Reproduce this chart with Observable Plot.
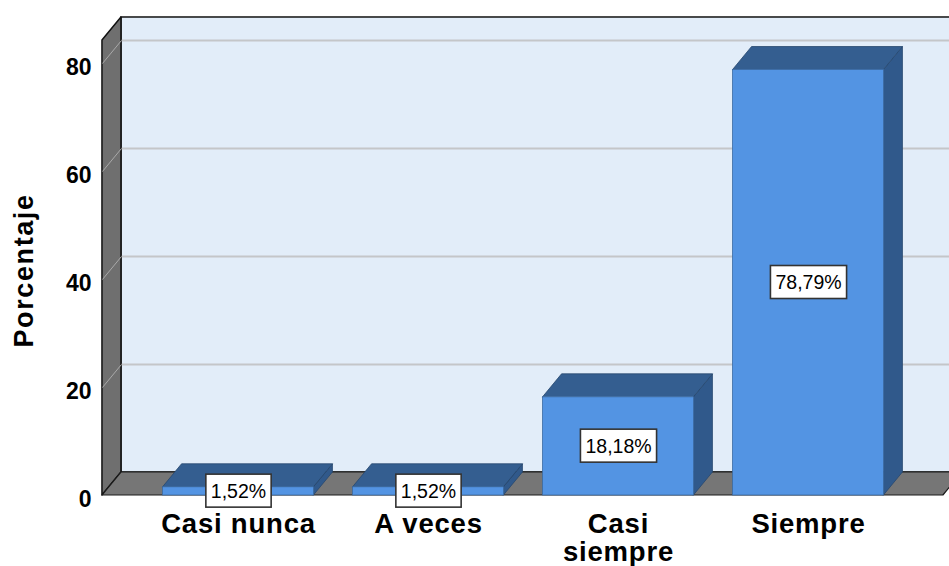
<!DOCTYPE html>
<html><head><meta charset="utf-8">
<script src="https://cdn.jsdelivr.net/npm/d3@7"></script>
<script src="https://cdn.jsdelivr.net/npm/@observablehq/plot@0.6"></script>
<style>body{margin:0;background:#fff;} #chart svg{display:block;}</style>
</head><body><div id="chart"></div>
<script>
const categories = ["Casi nunca", "A veces", "Casi siempre", "Siempre"];
const values = [1.52, 1.52, 18.18, 78.79];
const valueLabels = ["1,52%", "1,52%", "18,18%", "78,79%"];
const tickLabels = ["Casi nunca", "A veces", "Casi\nsiempre", "Siempre"];
const yTicks = [0, 20, 40, 60, 80];
const yTitle = "Porcentaje";

// 3D depth styling (in scale units)
const DX = 0.1, DY = 4.26, HW = 0.397;
const WALL_X = -0.716, RIGHT_X = 3.71, TOP_Y = 84.26, FAR_X = 4.4;

const bars = categories.map((c, i) => ({c, i, v: values[i], label: valueLabels[i]}));
const tops = bars.flatMap(b => [
  {c: b.c, y: b.v, x1: b.i - HW, x2: b.i + HW},
  {c: b.c, y: b.v + DY, x1: b.i - HW + DX, x2: b.i + HW + DX}
]);
const sides = bars.flatMap(b => [
  {c: b.c, x: b.i + HW, y1: 0, y2: b.v},
  {c: b.c, x: b.i + HW + DX, y1: DY, y2: b.v + DY}
]);
const leftWall = [
  {x: WALL_X, y1: 0, y2: TOP_Y},
  {x: WALL_X + DX, y1: DY, y2: TOP_Y + DY}
];
const floor = [
  {y: 0, x1: WALL_X, x2: RIGHT_X},
  {y: DY, x1: WALL_X + DX, x2: RIGHT_X + DX}
];

const font = "'Liberation Sans', Arial, sans-serif";

const svg = Plot.plot({
  width: 949,
  height: 566,
  marginLeft: 102,
  marginRight: 0,
  marginTop: 17,
  marginBottom: 71,
  style: {fontFamily: font, background: "#fff", overflow: "hidden"},
  x: {type: "linear", domain: [0, 3], range: [238, 808], label: null},
  y: {type: "linear", domain: [0, 80], range: [495, 63], label: null},
  marks: [
    // back wall
    Plot.rect([0], {x1: WALL_X + DX, x2: FAR_X, y1: DY, y2: TOP_Y + DY, fill: "#e2edf9", stroke: "#111", strokeWidth: 1.5}),
    // back gridlines
    Plot.ruleY(yTicks.filter(v => v > 0), {y: v => v + DY, x1: WALL_X + DX, x2: FAR_X, stroke: "#c4c6c9", strokeWidth: 2}),
    // left wall
    Plot.areaY(leftWall, {x: "x", y1: "y1", y2: "y2", fill: "#6f6f6f", stroke: "#111", strokeWidth: 1.5}),
    Plot.link(yTicks, {x1: WALL_X, y1: v => v, x2: WALL_X + DX, y2: v => v + DY, stroke: "#a9a9a9", strokeWidth: 1}),
    // floor
    Plot.areaX(floor, {y: "y", x1: "x1", x2: "x2", fill: "#767676", stroke: "#1a1a1a", strokeWidth: 1.2}),
    // bars
    Plot.areaY(sides, {x: "x", y1: "y1", y2: "y2", z: "c", fill: "#30598b", stroke: "#27476e", strokeWidth: 0.8}),
    Plot.areaX(tops, {y: "y", x1: "x1", x2: "x2", z: "c", fill: "#345e90", stroke: "#27476e", strokeWidth: 0.8}),
    Plot.rect(bars, {x1: d => d.i - HW, x2: d => d.i + HW, y1: 0, y2: "v", fill: "#5394e3", stroke: "#3a6aa3", strokeWidth: 0.8}),
    // value labels
    Plot.text(bars, {x: "i", y: d => d.v / 2, text: "label", fontSize: 19.5, fill: "#000"}),
    // axes
    Plot.axisY({ticks: yTicks, tickSize: 0, tickPadding: 11, fontSize: 23, fontWeight: "bold", dy: 4, label: null, fill: "#000"}),
    Plot.axisX({ticks: [0, 1, 2, 3], tickFormat: i => tickLabels[i], tickSize: 0, tickPadding: 18, fontSize: 27.5, fontWeight: "bold", lineHeight: 1.02, label: null, fill: "#000"}),
    Plot.text([yTitle], {frameAnchor: "left", rotate: -90, dx: -78, dy: 91, fontSize: 27, fontWeight: "bold", fill: "#000"})
  ]
});
document.getElementById("chart").append(svg);

svg.querySelectorAll("text").forEach(t => {
  const s = t.textContent;
  if (s === yTitle) t.style.letterSpacing = "1.6px";
  if (tickLabels.some(l => l.replace("\n", "") === s)) t.style.letterSpacing = "0.8px";
});

// white boxes behind value labels
svg.querySelectorAll("text").forEach(t => {
  if (!valueLabels.includes(t.textContent)) return;
  const bb = t.getBBox();
  const r = document.createElementNS("http://www.w3.org/2000/svg", "rect");
  const px = 5, py = 5.5;
  r.setAttribute("x", bb.x - px);
  r.setAttribute("y", bb.y - py);
  r.setAttribute("width", bb.width + 2 * px);
  r.setAttribute("height", bb.height + 2 * py);
  r.setAttribute("fill", "#fff");
  r.setAttribute("stroke", "#333");
  r.setAttribute("stroke-width", "1.6");
  const tr = t.getAttribute("transform");
  if (tr) r.setAttribute("transform", tr);
  t.parentNode.insertBefore(r, t);
});
</script>
</body></html>
